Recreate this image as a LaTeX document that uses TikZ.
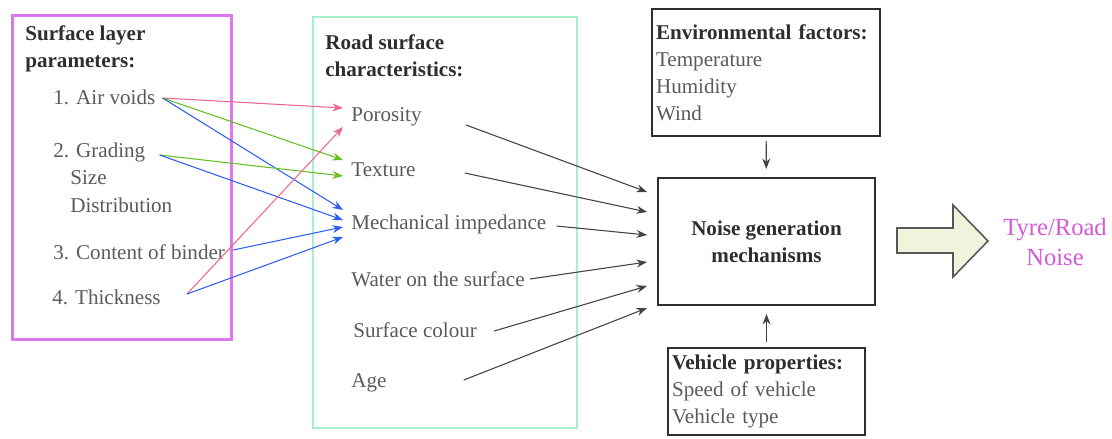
\documentclass[tikz,border=0pt]{standalone}
\usepackage{fontspec}
\setmainfont{Liberation Serif}
\usetikzlibrary{arrows.meta}

\definecolor{frameviolet}{HTML}{DD77EE}
\definecolor{framemint}{HTML}{A8F0CC}
\definecolor{linkred}{HTML}{F2668A}
\definecolor{linkgreen}{HTML}{66BF22}
\definecolor{linkblue}{HTML}{2F5EF2}
\definecolor{itemgray}{HTML}{5A5A5A}
\definecolor{headgray}{HTML}{2E2E2E}
\definecolor{noisepink}{HTML}{D458D8}
\definecolor{arrowfill}{HTML}{EEF5DC}

\begin{document}
\begin{tikzpicture}[
    x=0.02cm, y=-0.02cm,
    >={Stealth[length=6pt,width=4.5pt]},
    font=\fontsize{12}{15.4}\selectfont,
    item/.style={anchor=west, inner sep=0pt, text=itemgray},
    head/.style={anchor=west, inner sep=0pt, align=left, font=\fontsize{12}{15.4}\selectfont\bfseries, text=headgray},
    frame/.style={draw, rectangle, line width=1.1pt},
    infobox/.style={frame, draw=headgray, align=left, inner xsep=0.08cm, inner ysep=0pt, text=itemgray},
    link/.style={->, line width=0.6pt},
    feed/.style={->, line width=0.6pt, draw=headgray!90, fill=headgray!90}
]
\useasboundingbox (0,0) rectangle (1112,439);

% Frames
\node[frame, draw=frameviolet, line width=1.7pt, minimum width=4.4cm, minimum height=6.5cm] (paramframe) at (122,177.5) {};
\node[frame, draw=framemint, minimum width=5.28cm, minimum height=8.22cm] (charframe) at (445,222.5) {};

% Surface layer parameters
\node[head] (paramhead) at (25,48.5) {Surface layer\\parameters:};
\node[item] (airvoids) at (53,97) {1. Air voids};
\node[item] (grading) at (53,152) {2. Grading};
\node[item] (size) at (70,178) {Size};
\node[item] (distrib) at (70,205) {Distribution};
\node[item] (binder) at (53,252) {3. Content of binder};
\node[item] (thick) at (52,297) {4. Thickness};

% Road surface characteristics
\node[head] (charhead) at (325,56) {Road surface\\characteristics:};
\node[item] (poro) at (351,117) {Porosity};
\node[item] (tex) at (351,170) {Texture};
\node[item] (mech) at (351,224) {Mechanical impedance};
\node[item] (water) at (351,279) {Water on the surface};
\node[item] (colour) at (353,330) {Surface colour};
\node[item] (age) at (351,383) {Age};

% Right-hand boxes
\node[frame, draw=headgray, minimum width=4.34cm, minimum height=2.54cm, align=center, font=\fontsize{12}{15.4}\selectfont\bfseries, text=headgray] (noise) at (766.5,241.5) {Noise generation\\mechanisms};
\node[infobox, text width=4.4cm, minimum height=2.54cm] (env) at (766,72.5) {{\bfseries\color{headgray}Environmental factors:}\\Temperature\\Humidity\\Wind};
\node[infobox, text width=3.78cm, minimum height=1.74cm] (veh) at (766.5,391.5) {{\bfseries\color{headgray}Vehicle properties:}\\Speed of vehicle\\Vehicle type};
\node[align=center, text=noisepink, font=\fontsize{14}{17}\selectfont] (tyre) at (1055,242) {Tyre/Road\\Noise};

% Parameter links
\draw[link, linkred] ([shift={(7,1)}]airvoids.east) -- ([shift={(-8,-9)}]poro.west);
\draw[link, linkgreen] ([shift={(7,1)}]airvoids.east) -- ([shift={(-8,-10)}]tex.west);
\draw[link, linkblue] ([shift={(7,1)}]airvoids.east) -- ([shift={(-8,-14)}]mech.west);
\draw[link, linkgreen] ([shift={(14,3)}]grading.east) -- ([shift={(-8,6)}]tex.west);
\draw[link, linkblue] ([shift={(14,3)}]grading.east) -- ([shift={(-8,-4)}]mech.west);
\draw[link, linkblue] ([shift={(8,-2)}]binder.east) -- ([shift={(-8,3)}]mech.west);
\draw[link, linkred] ([shift={(26,-3)}]thick.east) -- ([shift={(-8,10)}]poro.west);
\draw[link, linkblue] ([shift={(26,-3)}]thick.east) -- ([shift={(-8,13)}]mech.west);

% Feeds into noise generation
\draw[feed] ([shift={(44,8)}]poro.east) -- ([shift={(-10,-49.5)}]noise.west);
\draw[feed] ([shift={(49,3)}]tex.east) -- ([shift={(-10,-29.5)}]noise.west);
\draw[feed] ([shift={(10,2)}]mech.east) -- ([shift={(-10,-6.5)}]noise.west);
\draw[feed] ([shift={(5,0)}]water.east) -- ([shift={(-10,20.5)}]noise.west);
\draw[feed] ([shift={(17,1)}]colour.east) -- ([shift={(-10,44.5)}]noise.west);
\draw[feed] ([shift={(77,-3)}]age.east) -- ([shift={(-10,66.5)}]noise.west);
\draw[feed, shorten <=0.08cm, shorten >=0.16cm] (env) -- (noise);
\draw[feed, shorten <=0.1cm, shorten >=0.16cm] (veh) -- (noise);

% Output arrow
\draw[draw=headgray!80, fill=arrowfill, line width=0.9pt] (897,228) -- (953,228) -- (953,205) -- (988,241) -- (953,277) -- (953,253) -- (897,253) -- cycle;
\end{tikzpicture}
\end{document}
